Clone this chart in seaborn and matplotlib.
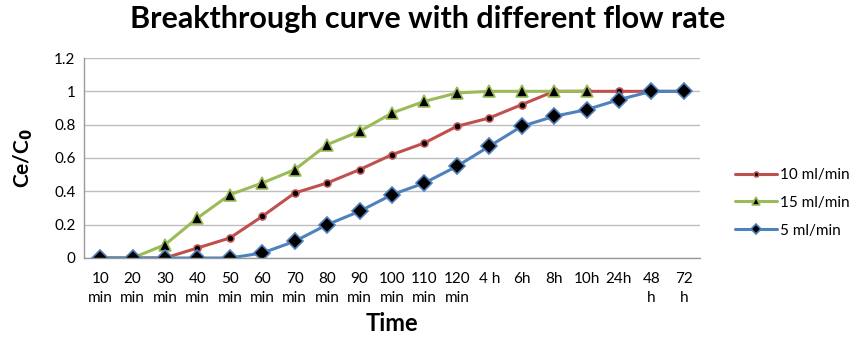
import matplotlib
matplotlib.use("Agg")
import matplotlib.pyplot as plt
import seaborn as sns
import numpy as np
import pandas as pd
from matplotlib.ticker import FuncFormatter

time_labels = ["10\nmin", "20\nmin", "30\nmin", "40\nmin", "50\nmin", "60\nmin",
               "70\nmin", "80\nmin", "90\nmin", "100\nmin", "110\nmin", "120\nmin",
               "4 h", "6h", "8h", "10h", "24h", "48\nh", "72\nh"]

flow_10 = [0, 0, 0, 0.06, 0.12, 0.25, 0.39, 0.45, 0.53, 0.62, 0.69, 0.79,
           0.84, 0.92, 1.0, 1.0, 1.0, 1.0, 1.0]
flow_15 = [0, 0, 0.08, 0.24, 0.38, 0.45, 0.53, 0.68, 0.76, 0.87, 0.94, 0.99,
           1.0, 1.0, 1.0, 1.0, np.nan, np.nan, np.nan]
flow_5 = [0, 0, 0, 0, 0, 0.03, 0.10, 0.20, 0.28, 0.38, 0.45, 0.55,
          0.67, 0.79, 0.85, 0.89, 0.95, 1.0, 1.0]

series_names = ["10 ml/min", "15 ml/min", "5 ml/min"]
series_values = [flow_10, flow_15, flow_5]
colors = ["#C0504D", "#9BBB59", "#4F81BD"]
markers = ["o", "^", "D"]
msizes = [5, 9, 8]

sns.set_theme(style="white")
plt.rcParams['font.family'] = ['Lato', 'DejaVu Sans']
plt.rcParams['text.color'] = 'black'
plt.rcParams['axes.labelcolor'] = 'black'
plt.rcParams['xtick.color'] = 'black'
plt.rcParams['ytick.color'] = 'black'

fig = plt.figure(figsize=(8.5, 3.38), dpi=100)
ax = fig.add_axes([0.0988, 0.2367, 0.7247, 0.5917])

pos = np.arange(len(time_labels))
for name, vals, c, m, ms in zip(series_names, series_values, colors, markers, msizes):
    df = pd.DataFrame({"pos": pos, "val": vals}).dropna()
    sns.lineplot(data=df, x="pos", y="val", ax=ax, color=c, linewidth=2.2,
                 marker=m, markersize=ms, markerfacecolor="black",
                 markeredgecolor=c, markeredgewidth=1.2, label=name, legend=False)

ax.set_xlim(-0.5, len(time_labels) - 0.5)
ax.set_ylim(0, 1.2)
ax.set_yticks(np.arange(0, 1.21, 0.2))
ax.yaxis.set_major_formatter(FuncFormatter(lambda v, p: f"{v:g}"))
ax.set_xticks(pos)
ax.set_xticklabels(time_labels, linespacing=1.5)
ax.grid(axis="y", color="#BEBEBE", linewidth=1)
ax.tick_params(axis="y", labelsize=11, length=0, pad=6)
ax.tick_params(axis="x", labelsize=11, length=0, pad=10)
for s in ["top", "right"]:
    ax.spines[s].set_visible(False)
for s in ["left", "bottom"]:
    ax.spines[s].set_color("#999999")
    ax.spines[s].set_linewidth(1)

ax.set_xlabel("Time", fontsize=17, fontweight="bold", labelpad=5)
ax.set_ylabel("Ce/C$_\\mathbf{0}$", fontsize=15, fontweight="bold", labelpad=14)
fig.suptitle("Breakthrough curve with different flow rate", fontsize=22,
             fontweight="bold", x=0.503, y=0.985)

handles, labels = ax.get_legend_handles_labels()
fig.legend(handles, labels, loc="center left", bbox_to_anchor=(0.848, 0.40),
           frameon=False, fontsize=11, handlelength=2.8, labelspacing=0.9,
           handletextpad=0.15, markerscale=0.7)

fig.savefig("out.png", dpi=100)
